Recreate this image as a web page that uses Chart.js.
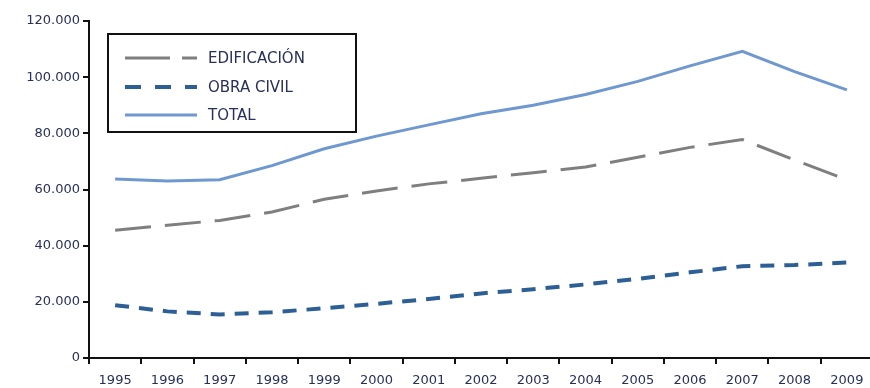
<!DOCTYPE html>
<html>
<head>
<meta charset="utf-8">
<script src="https://cdn.jsdelivr.net/npm/chart.js@4"></script>
<style>
	html, body { margin: 0; padding: 0; background: #fff; overflow: hidden; }
	#grafico { display: block; }
</style>
</head>
<body>
<canvas id="grafico" width="885" height="388" style="width:885px;height:388px"></canvas>
<script>
// datos (miles de unidades)
var years = ['1995', '1996', '1997', '1998', '1999', '2000', '2001', '2002', '2003', '2004', '2005', '2006', '2007', '2008', '2009'];
var edificacion = [45500, 47300, 49000, 52000, 56500, 59500, 62000, 64000, 66000, 68000, 71500, 75000, 77800, 70500, 63500];
var obraCivil = [18800, 16600, 15500, 16300, 17700, 19300, 21000, 23000, 24500, 26200, 28200, 30500, 32700, 33100, 34000];
var total = [63700, 63000, 63500, 68500, 74500, 79000, 83000, 87000, 90000, 93800, 98500, 104000, 109200, 102000, 95500];
var yTicks = [0, 20000, 40000, 60000, 80000, 100000, 120000];

var textColor = '#27305a';

function fmtMiles(v) {
	if (v === 0) return '0';
	return String(v).replace(/\B(?=(\d{3})+(?!\d))/g, '.');
}

// leyenda dentro del area del grafico con recuadro
var leyendaCaja = {
	id: 'leyendaCaja',
	afterDraw: function(chart) {
		var ctx = chart.ctx;
		ctx.save();
		ctx.lineWidth = 2;
		ctx.strokeStyle = '#111';
		ctx.strokeRect(108, 34, 248, 98);
		var rows = [58, 87, 115];
		chart.data.datasets.forEach(function(ds, i) {
			ctx.beginPath();
			ctx.setLineDash(ds.legendDash || []);
			ctx.lineWidth = ds.borderWidth;
			ctx.strokeStyle = ds.borderColor;
			ctx.moveTo(125, rows[i]);
			ctx.lineTo(197, rows[i]);
			ctx.stroke();
			ctx.setLineDash([]);
			ctx.fillStyle = textColor;
			ctx.font = '15px "DejaVu Sans"';
			ctx.textBaseline = 'middle';
			ctx.fillText(ds.label, 208, rows[i] + 1);
		});
		ctx.restore();
	}
};

var ctx = document.getElementById('grafico').getContext('2d');
var chart = new Chart(ctx, {
	type: 'line',
	data: {
		labels: years,
		datasets: [{
			label: 'EDIFICACIÓN',
			data: edificacion,
			borderColor: '#7f7f7f',
			borderWidth: 3,
			borderDash: [36, 14],
			legendDash: [45, 12],
			pointRadius: 0,
			tension: 0,
			fill: false
		}, {
			label: 'OBRA CIVIL',
			data: obraCivil,
			borderColor: '#2c5f96',
			borderWidth: 4,
			borderDash: [14, 10],
			legendDash: [16, 14],
			pointRadius: 0,
			tension: 0,
			fill: false
		}, {
			label: 'TOTAL',
			data: total,
			borderColor: '#6f98d0',
			borderWidth: 3,
			pointRadius: 0,
			tension: 0,
			fill: false
		}]
	},
	options: {
		responsive: false,
		animation: false,
		layout: { padding: { top: 21, right: 12, left: 0, bottom: 0 } },
		plugins: {
			legend: { display: false },
			tooltip: { enabled: false }
		},
		scales: {
			x: {
				offset: true,
				border: { color: '#111', width: 2 },
				grid: { offset: true, drawOnChartArea: false, drawTicks: true, tickLength: 6, color: '#111', lineWidth: 2 },
				ticks: { color: textColor, font: { family: 'DejaVu Sans', size: 13 }, maxRotation: 0, autoSkip: false, padding: 9 },
				afterFit: function(scale) { scale.height = 30; }
			},
			y: {
				min: 0,
				max: 120000,
				afterBuildTicks: function(scale) {
					scale.ticks = yTicks.map(function(v) { return { value: v }; });
				},
				border: { color: '#111', width: 2 },
				grid: { drawOnChartArea: false, drawTicks: true, tickLength: 6, color: '#111', lineWidth: 2 },
				ticks: {
					color: textColor,
					font: { family: 'DejaVu Sans', size: 13 },
					padding: 3,
					callback: function(v) { return fmtMiles(v); }
				},
				afterFit: function(scale) { scale.width = 89; }
			}
		}
	},
	plugins: [leyendaCaja]
});
</script>
</body>
</html>
